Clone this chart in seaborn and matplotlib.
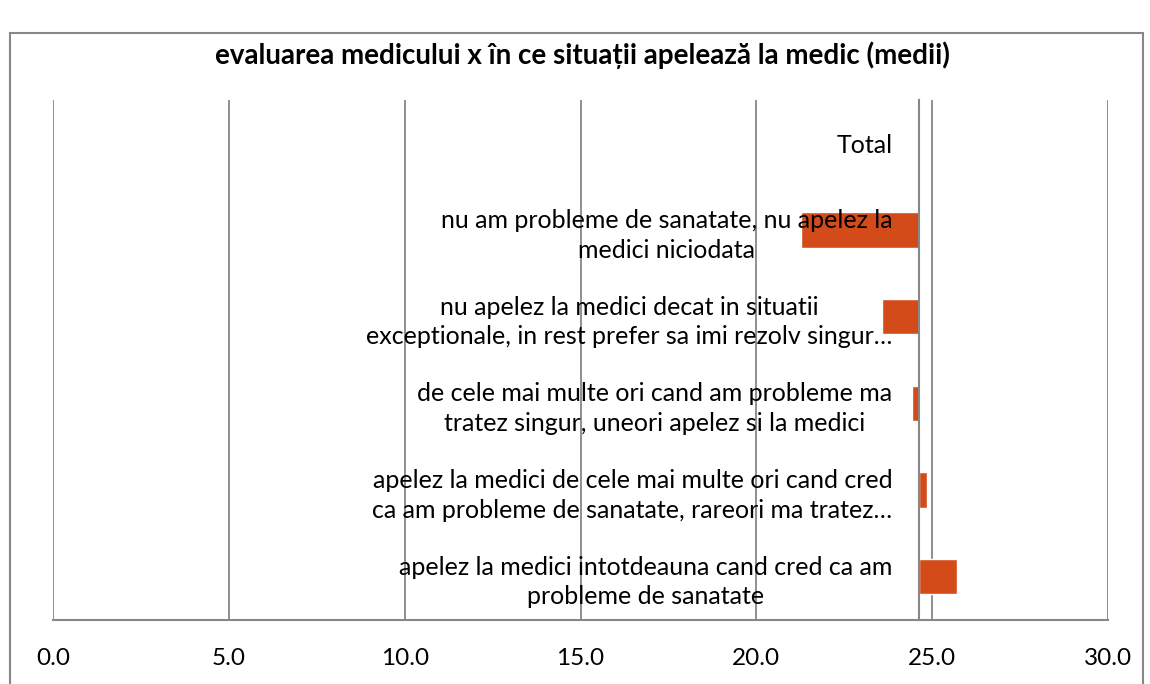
import matplotlib
matplotlib.use("Agg")
import matplotlib.pyplot as plt
from matplotlib.patches import Rectangle
import numpy as np
import pandas as pd
import seaborn as sns

# values (means); the category axis crosses at the Total value
categories = [
    "Total",
    "nu am probleme de sanatate, nu apelez la\nmedici niciodata",
    "nu apelez la medici decat in situatii\nexceptionale, in rest prefer sa imi rezolv singur…",
    "de cele mai multe ori cand am probleme ma\ntratez singur, uneori apelez si la medici",
    "apelez la medici de cele mai multe ori cand cred\nca am probleme de sanatate, rareori ma tratez…",
    "apelez la medici intotdeauna cand cred ca am\nprobleme de sanatate",
]
means = [24.62, 21.27, 23.57, 24.44, 24.84, 25.71]
x_ticks = [0, 5, 10, 15, 20, 25, 30]
title = "evaluarea medicului x în ce situații apelează la medic (medii)"

bar_color = "#D24B18"
gray = "#878787"

sns.set_theme(style="white")
plt.rcParams["font.family"] = ["Lato", "DejaVu Sans"]

W, H = 1150, 684
fig = plt.figure(figsize=(W / 100, H / 100), dpi=100)
ax = fig.add_axes([53 / W, 1 - 620 / H, (1108 - 53) / W, (620 - 100) / H])

cross = means[0]
df = pd.DataFrame({"categorie": categories, "diff": [m - cross for m in means]})

sns.barplot(data=df, x="diff", y="categorie", left=cross, color=bar_color,
            saturation=1, width=0.41, ax=ax, zorder=2)

ax.set_xlim(x_ticks[0], x_ticks[-1])
ax.set_ylim(len(categories) - 0.5, -0.5)
ax.set_xticks(x_ticks)
ax.set_xticklabels([f"{t:.1f}" for t in x_ticks])
ax.set_xlabel("")
ax.set_ylabel("")

# vertical gridlines under the bars, category labels over them
ax.xaxis.grid(True, color=gray, linewidth=1.3)
ax.yaxis.grid(False)
ax.xaxis.set_zorder(0.5)
ax.yaxis.set_zorder(5)

for s in ["top", "right"]:
    ax.spines[s].set_visible(False)
ax.spines["bottom"].set_color(gray)
ax.spines["bottom"].set_linewidth(1.5)
ax.spines["left"].set_color(gray)
ax.spines["left"].set_linewidth(1.5)
ax.spines["left"].set_position(("data", cross))
ax.spines["left"].set_zorder(4)

# category ticks sit on the band boundaries, labels next to the crossing axis
ax.set_yticks(np.arange(-0.5, len(categories), 1), minor=True)
ax.tick_params(axis="y", which="minor", length=5, width=1.3, color=gray, direction="out")
ax.tick_params(axis="y", which="major", length=0, pad=19, labelsize=18, labelcolor="black")
ax.tick_params(axis="x", which="major", length=7, width=1.3, color=gray, direction="out",
               pad=13, labelsize=17.5, labelcolor="black")
for lbl in ax.get_yticklabels():
    lbl.set_multialignment("center")
    lbl.set_linespacing(1.35)

fig.text(582 / W, 1 - 55 / H, title, ha="center", va="center",
         fontsize=20, fontweight="bold", color="black")

fig.add_artist(Rectangle((10 / W, -0.01), (1143 - 10) / W, 1.01 - 33 / H,
                         transform=fig.transFigure, fill=False,
                         edgecolor=gray, linewidth=1.5))

fig.savefig("out.png", dpi=100, facecolor="white")
